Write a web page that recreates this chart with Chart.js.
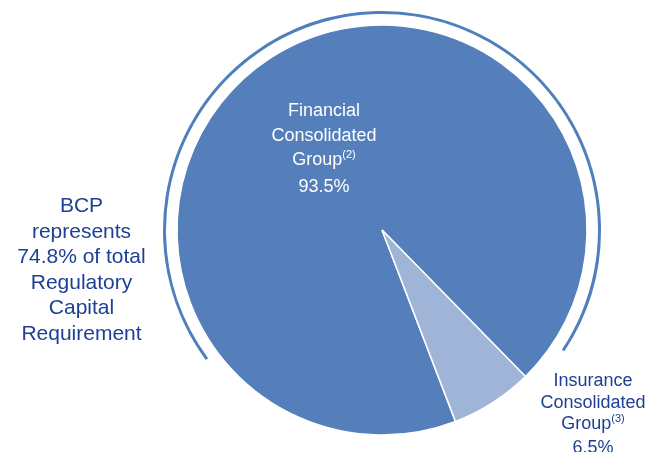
<!DOCTYPE html>
<html>
<head>
<meta charset="utf-8">
<script src="https://cdn.jsdelivr.net/npm/chart.js@4.4.1/dist/chart.umd.min.js"></script>
<style>
    body { margin: 0; background: #fff; }
    #wrap { position: relative; width: 648px; height: 452px; font-family: 'Liberation Sans', Arial, sans-serif; }
    .lbl { position: absolute; text-align: center; }
    .lbl sup { font-size: 11px; vertical-align: baseline; position: relative; top: -7px; }
</style>
</head>
<body>
<div id="wrap">
    <canvas id="myChart"></canvas>
    <div id="note" class="lbl" style="left:0; top:192px; width:163px; font-size:21px; line-height:25.5px; color:#1d3f95;"></div>
    <div id="lbl0" class="lbl" style="left:244px; top:98px; width:160px; font-size:18px; line-height:24.5px; color:#fff;"></div>
    <div id="lbl1" class="lbl" style="left:533px; top:370px; width:120px; font-size:18px; line-height:21.7px; color:#1d3f95;"></div>
</div>
<script>
//Данные
var categories = ['Financial Consolidated Group', 'Insurance Consolidated Group'];
var footnotes = ['(2)', '(3)'];
var values = [93.5, 6.5];
var bcpShare = 74.8;

var colors = ['#557fba', '#9fb4d7'];

//Подписи
function label(i) {
    var words = categories[i].split(' ');
    words[words.length - 1] += '<sup>' + footnotes[i] + '</sup>';
    return words.join('<br>') + '<br>' + values[i] + '%';
}
document.getElementById('lbl0').innerHTML = label(0);
document.getElementById('lbl1').innerHTML = label(1);
document.getElementById('note').innerHTML =
    'BCP<br>represents<br>' + bcpShare + '% of total<br>Regulatory<br>Capital<br>Requirement';

//Диаграмма
var ctx = document.getElementById('myChart').getContext('2d');

new Chart(ctx, {
    type: 'pie',
    data: {
        labels: categories,
        datasets: [{
            //внешняя дуга
            data: [1],
            backgroundColor: ['#4f7fbd'],
            borderWidth: 0,
            hoverBorderWidth: 0,
            rotation: 233.6,
            circumference: 250,
            weight: 3
        }, {
            //промежуток
            data: [1],
            backgroundColor: ['rgba(0,0,0,0)'],
            borderWidth: 0,
            hoverBorderWidth: 0,
            weight: 11
        }, {
            data: values,
            backgroundColor: colors,
            borderColor: '#fff',
            borderWidth: 1.5,
            rotation: 159,
            weight: 205
        }]
    },
    options: {
        responsive: true,
        maintainAspectRatio: false,
        animation: false,
        layout: { padding: { left: 163, right: 47, top: 11, bottom: 3 } },
        plugins: {
            legend: { display: false },
            tooltip: { enabled: false }
        }
    }
});
</script>
</body>
</html>
